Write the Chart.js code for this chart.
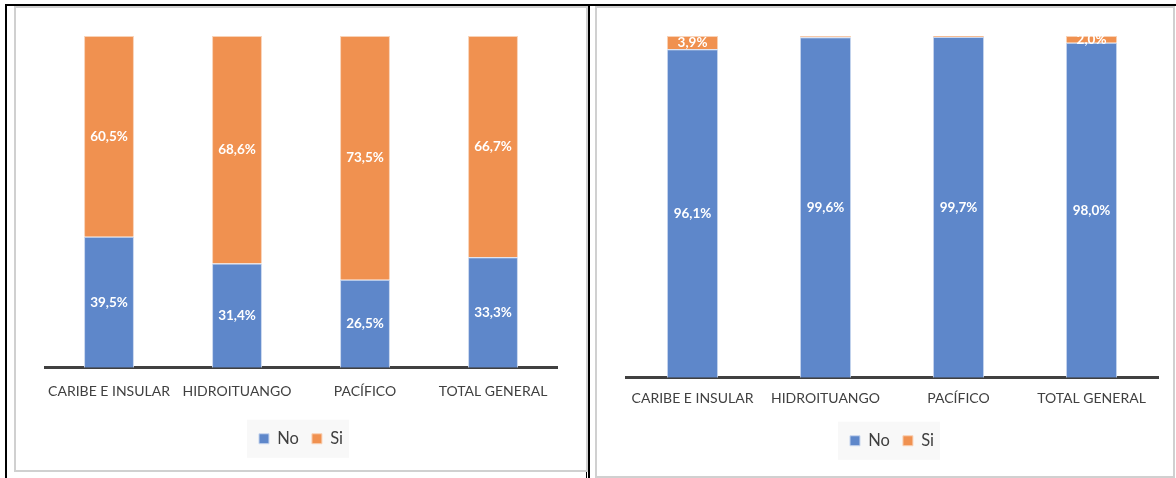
<!DOCTYPE html>
<html>
<head>
<meta charset="utf-8">
<script src="https://cdn.jsdelivr.net/npm/chart.js@4.4.0/dist/chart.umd.min.js"></script>
<style>
body { margin: 0; width: 1176px; height: 478px; position: relative; background: #fff; overflow: hidden; }
.line { position: absolute; background: #000; }
.panel { position: absolute; border: 2px solid #d0d0d0; box-sizing: border-box; }
canvas { position: absolute; }
</style>
</head>
<body>
<div class="line" style="left:5px;top:4px;width:1171px;height:2px"></div>
<div class="line" style="left:5px;top:4px;width:2px;height:474px"></div>
<div class="line" style="left:586px;top:4px;width:1px;height:474px"></div>
<div class="line" style="left:588px;top:4px;width:2px;height:474px"></div>
<div class="panel" style="left:14px;top:6px;width:574px;height:466px"></div>
<div class="panel" style="left:595px;top:6px;width:580px;height:472px"></div>
<canvas id="GraficoIzq" width="570" height="460" style="left:16px;top:8px"></canvas>
<canvas id="GraficoDer" width="575" height="468" style="left:597px;top:8px"></canvas>
<script>
const categorias = ['CARIBE E INSULAR', 'HIDROITUANGO', 'PACÍFICO', 'TOTAL GENERAL'];
const izqNo = [39.5, 31.4, 26.5, 33.3];
const izqSi = [60.5, 68.6, 73.5, 66.7];
const derNo = [96.1, 99.6, 99.7, 98.0];
const derSi = [3.9, 0.4, 0.3, 2.0];

const azul = 'rgb(94, 135, 202)';
const naranja = 'rgb(240, 145, 80)';

// etiquetas de datos en el centro de cada segmento
const etiquetas = {
    id: 'etiquetas',
    afterDatasetsDraw(chart) {
        const ctx = chart.ctx;
        ctx.save();
        ctx.font = 'bold 13.5px Lato';
        ctx.fillStyle = '#ffffff';
        ctx.textAlign = 'center';
        ctx.textBaseline = 'middle';
        chart.data.datasets.forEach((ds, i) => {
            chart.getDatasetMeta(i).data.forEach((bar, j) => {
                const v = ds.data[j];
                if (v < 1) return;
                ctx.fillText(v.toFixed(1).replace('.', ',') + '%', bar.x, (bar.y + bar.base) / 2);
            });
        });
        ctx.restore();
    }
};

// fondo gris claro detras de la leyenda
const fondoLeyenda = {
    id: 'fondoLeyenda',
    beforeDraw(chart) {
        const cajas = chart.legend.legendHitBoxes;
        if (!cajas || !cajas.length) return;
        const x0 = cajas[0].left - 12;
        const last = cajas[cajas.length - 1];
        const x1 = last.left + last.width + 6;
        const yc = cajas[0].top + cajas[0].height / 2;
        chart.ctx.save();
        chart.ctx.fillStyle = '#f8f8f8';
        chart.ctx.fillRect(x0, yc - 19, x1 - x0, 38);
        chart.ctx.restore();
    }
};

function crearConfig(no, si, pad, barPct, tickPad, extra, padBottom) {
    return {
        type: 'bar',
        data: {
            labels: categorias,
            datasets: [{
                label: 'No',
                data: no,
                backgroundColor: azul,
                borderColor: 'rgb(200, 214, 238)',
                borderWidth: 1,
                barPercentage: barPct,
                categoryPercentage: 1
            }, {
                label: 'Si',
                data: si,
                backgroundColor: naranja,
                borderColor: 'rgb(249, 210, 182)',
                borderWidth: 1,
                barPercentage: barPct,
                categoryPercentage: 1
            }]
        },
        options: {
            responsive: false,
            animation: false,
            layout: {
                padding: { left: pad.left, right: pad.right, top: 28, bottom: padBottom }
            },
            scales: {
                x: {
                    stacked: true,
                    grid: { display: false },
                    border: { display: true, color: '#404040', width: 3 },
                    ticks: { color: '#404040', font: { family: 'Lato', size: 14 }, padding: tickPad, maxRotation: 0 },
                    afterFit(scale) { scale.height += extra; }
                },
                y: {
                    stacked: true,
                    display: false,
                    min: 0,
                    max: 100
                }
            },
            plugins: {
                legend: {
                    position: 'bottom',
                    labels: {
                        boxWidth: 10,
                        boxHeight: 10,
                        padding: 13,
                        color: '#404040',
                        font: { family: 'Lato', size: 16.5 }
                    }
                },
                tooltip: { enabled: false }
            }
        },
        plugins: [fondoLeyenda, etiquetas]
    };
}

const canvasIzq = document.getElementById('GraficoIzq');
const GraficoIzq = new Chart(canvasIzq, crearConfig(izqNo, izqSi, { left: 29, right: 29 }, 0.39, 7, 11, 11));

const canvasDer = document.getElementById('GraficoDer');
const GraficoDer = new Chart(canvasDer, crearConfig(derNo, derSi, { left: 29, right: 14 }, 0.385, 4, 9, 17));
</script>
</body>
</html>
